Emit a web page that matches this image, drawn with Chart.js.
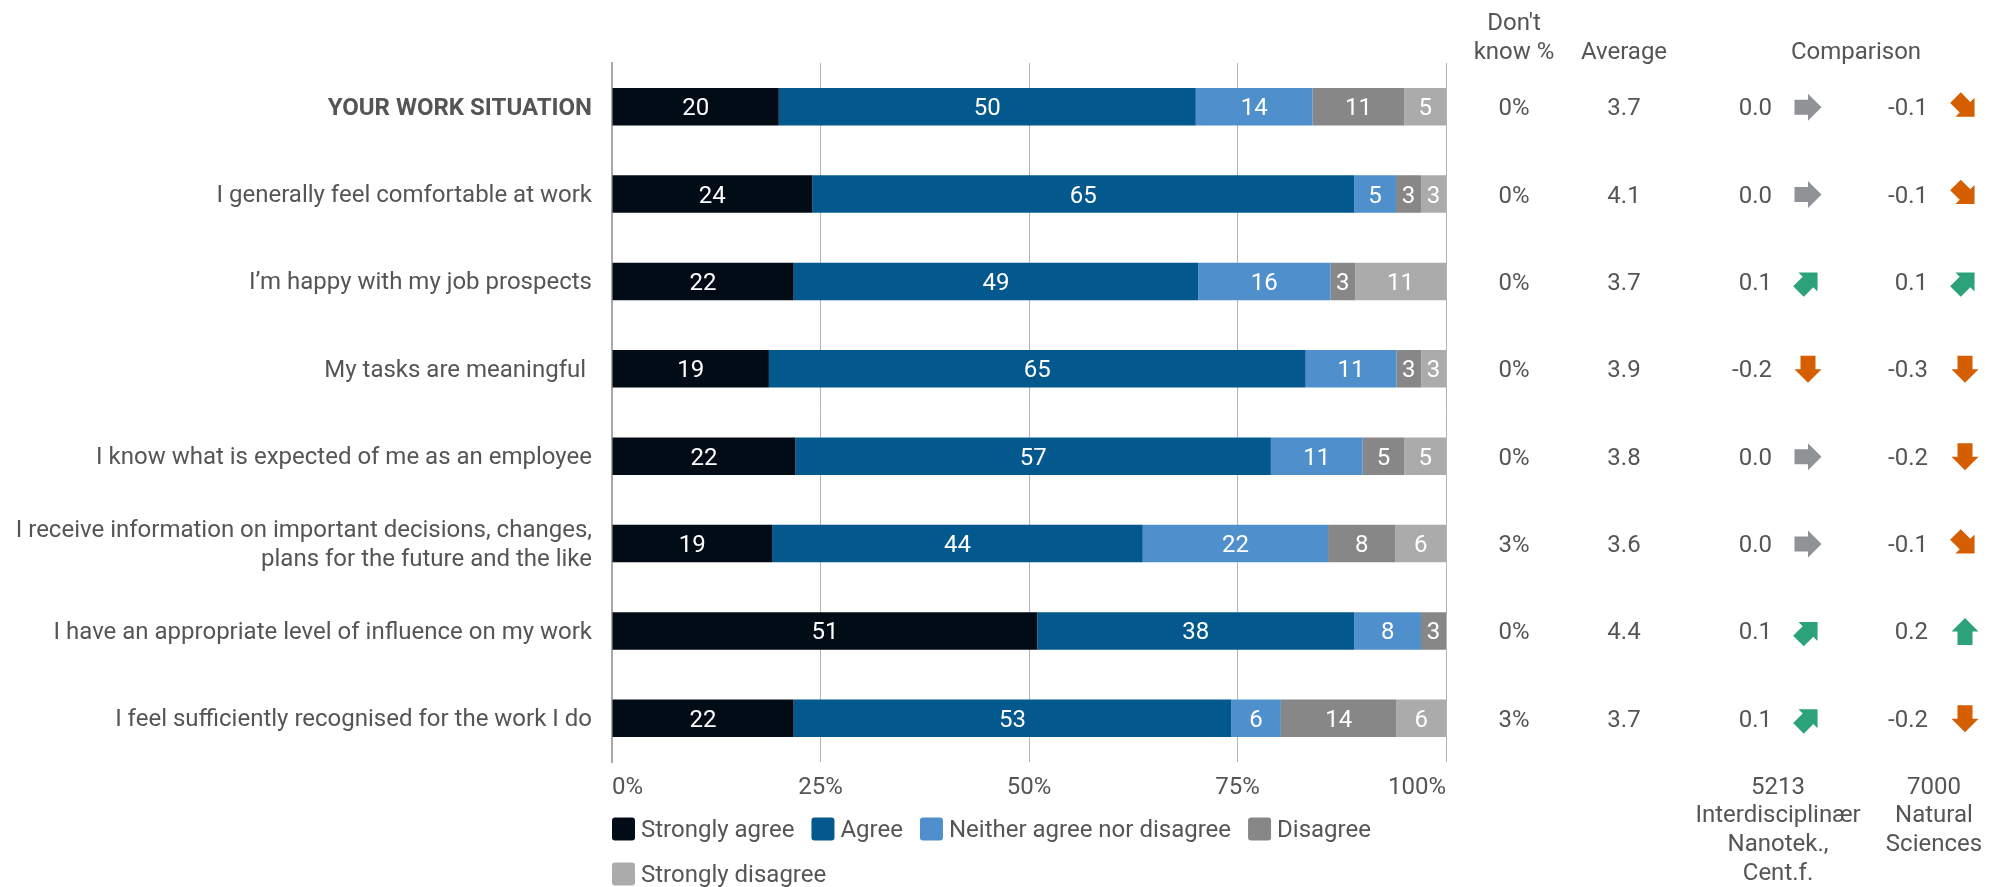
<!DOCTYPE html>
<html><head><meta charset="utf-8">
<script src="https://cdn.jsdelivr.net/npm/chart.js@4.4.0/dist/chart.umd.min.js"></script>
<style>html,body{margin:0;padding:0;background:#fff}canvas{display:block}</style>
</head><body>
<canvas id="c" width="2004" height="887"></canvas>
<script>
// ---------- data ----------
const categories = [
  'YOUR WORK SITUATION',
  'I generally feel comfortable at work',
  'I\u2019m happy with my job prospects',
  'My tasks are meaningful ',
  'I know what is expected of me as an employee',
  ['I receive information on important decisions, changes,', 'plans for the future and the like'],
  'I have an appropriate level of influence on my work',
  'I feel sufficiently recognised for the work I do'
];
const seriesNames = ['Strongly agree', 'Agree', 'Neither agree nor disagree', 'Disagree', 'Strongly disagree'];
const stronglyAgree    = [20, 24, 22, 19, 22, 19, 51, 22];
const agree            = [50, 65, 49, 65, 57, 44, 38, 53];
const neither          = [14,  5, 16, 11, 11, 22,  8,  6];
const disagree         = [11,  3,  3,  3,  5,  8,  3, 14];
const stronglyDisagree = [ 5,  3, 11,  3,  5,  6,  0,  6];
const xTickLabels = ['0%', '25%', '50%', '75%', '100%'];
const dontKnow   = ['0%', '0%', '0%', '0%', '0%', '3%', '0%', '3%'];
const average    = ['3.7', '4.1', '3.7', '3.9', '3.8', '3.6', '4.4', '3.7'];
const comparison1       = ['0.0', '0.0', '0.1', '-0.2', '0.0', '0.0', '0.1', '0.1'];
const comparison1Arrows = ['right', 'right', 'upright', 'down', 'right', 'right', 'upright', 'upright'];
const comparison2       = ['-0.1', '-0.1', '0.1', '-0.3', '-0.2', '-0.1', '0.2', '-0.2'];
const comparison2Arrows = ['downright', 'downright', 'upright', 'down', 'down', 'downright', 'up', 'down'];
const comparisonGroups = [['5213', 'Interdisciplin\u00e6r', 'Nanotek.,', 'Cent.f.'], ['7000', 'Natural', 'Sciences']];
const headerDontKnow = ['Don\'t', 'know %'];
const headerAverage = 'Average';
const headerComparison = 'Comparison';

// ---------- styles ----------
const seriesRaw = [stronglyAgree, agree, neither, disagree, stronglyDisagree];
const seriesColors = ['#020c17', '#03588e', '#4e8fcc', '#878787', '#ababab'];
const FONT = 'Roboto';
const TEXT = '#555555';
const arrowColors = { right: '#8f9296', downright: '#d55e00', down: '#d55e00', upright: '#2ba27a', up: '#2ba27a' };

const rowTotals = categories.map((_, i) => seriesRaw.reduce((s, a) => s + a[i], 0));

function drawArrow(ctx, cx, cy, dir) {
  const ang = { right: 0, downright: Math.PI / 4, down: Math.PI / 2, upright: -Math.PI / 4, up: -Math.PI / 2 }[dir];
  ctx.save();
  ctx.fillStyle = arrowColors[dir];
  ctx.translate(cx, cy);
  ctx.rotate(ang);
  ctx.beginPath();
  ctx.moveTo(-13.5, -7.5); ctx.lineTo(0, -7.5); ctx.lineTo(0, -13.5); ctx.lineTo(13.5, 0);
  ctx.lineTo(0, 13.5); ctx.lineTo(0, 7.5); ctx.lineTo(-13.5, 7.5); ctx.closePath();
  ctx.fill();
  ctx.restore();
}

const overlay = {
  id: 'overlay',
  afterDatasetsDraw(chart) {
    const ctx = chart.ctx;
    ctx.save();
    ctx.font = `24px ${FONT}`;
    ctx.fillStyle = '#ffffff';
    ctx.textAlign = 'center';
    ctx.textBaseline = 'middle';
    chart.data.datasets.forEach((ds, di) => {
      chart.getDatasetMeta(di).data.forEach((bar, i) => {
        const raw = seriesRaw[di][i];
        if (!raw) return;
        ctx.fillText(String(raw), (bar.x + bar.base) / 2, bar.y + 2.5);
      });
    });
    ctx.restore();
  },
  afterDraw(chart) {
    const ctx = chart.ctx;
    const yScale = chart.scales.y;
    ctx.save();
    ctx.font = `24px ${FONT}`;
    ctx.fillStyle = TEXT;
    ctx.textBaseline = 'middle';
    // headers
    ctx.textAlign = 'center';
    ctx.fillText(headerDontKnow[0], 1514, 23.5);
    ctx.fillText(headerDontKnow[1], 1514, 52.5);
    ctx.fillText(headerAverage, 1624, 52.5);
    ctx.fillText(headerComparison, 1856, 52.5);
    // rows
    categories.forEach((_, i) => {
      const yc = yScale.getPixelForValue(i);
      const y = yc + 2.5;
      ctx.textAlign = 'center';
      ctx.fillText(dontKnow[i], 1514, y);
      ctx.fillText(average[i], 1624, y);
      ctx.textAlign = 'right';
      ctx.fillText(comparison1[i], 1772, y);
      ctx.fillText(comparison2[i], 1928, y);
      drawArrow(ctx, 1808, yc + 0.5, comparison1Arrows[i]);
      drawArrow(ctx, 1965, yc + 0.5, comparison2Arrows[i]);
    });
    // comparison group labels
    ctx.textAlign = 'center';
    const gx = [1778, 1934];
    comparisonGroups.forEach((lines, g) => {
      lines.forEach((t, k) => ctx.fillText(t, gx[g], 787.5 + k * 28.8));
    });
    // legend
    let lx = chart.chartArea.left, ly = 829;
    const maxX = chart.chartArea.right;
    ctx.textAlign = 'left';
    seriesNames.forEach((name, i) => {
      const w = 23 + 6 + ctx.measureText(name).width;
      if (lx + w > maxX && lx > chart.chartArea.left) { lx = chart.chartArea.left; ly += 45; }
      ctx.fillStyle = seriesColors[i];
      ctx.beginPath();
      ctx.roundRect(lx, ly - 11.5, 23, 23, 3);
      ctx.fill();
      ctx.fillStyle = TEXT;
      ctx.fillText(name, lx + 29, ly + 2);
      lx += w + 17;
    });
    ctx.restore();
  }
};

Chart.defaults.font.family = FONT;
Chart.defaults.color = TEXT;

new Chart(document.getElementById('c'), {
  type: 'bar',
  data: {
    labels: categories,
    datasets: seriesRaw.map((arr, di) => ({
      label: seriesNames[di],
      data: arr.map((v, i) => v * 100 / rowTotals[i]),
      backgroundColor: seriesColors[di],
      borderWidth: 0,
      categoryPercentage: 1,
      barPercentage: 0.43
    }))
  },
  options: {
    indexAxis: 'y',
    responsive: false,
    animation: false,
    devicePixelRatio: 1,
    layout: { padding: { left: 0, right: 558, top: 63, bottom: 0 } },
    plugins: { legend: { display: false }, tooltip: { enabled: false } },
    scales: {
      x: {
        stacked: true, min: 0, max: 100,
        afterFit(s) { s.height = 125; },
        grid: { color: '#b4b4b4', lineWidth: 1, drawTicks: false },
        border: { display: false },
        ticks: {
          stepSize: 25, padding: 12, align: 'inner', color: TEXT, font: { size: 24 },
          callback: (v) => xTickLabels[Math.round(v / 25)]
        }
      },
      y: {
        stacked: true,
        afterFit(s) { s.width = 612; },
        grid: { display: false, drawTicks: false },
        border: { display: true, color: '#a9a9a9', width: 2 },
        ticks: {
          padding: 20, labelOffset: 2, color: TEXT,
          font: (c) => ({ size: 24, weight: c.index === 0 ? 'bold' : 'normal' })
        }
      }
    }
  },
  plugins: [overlay]
});
</script>
</body></html>
